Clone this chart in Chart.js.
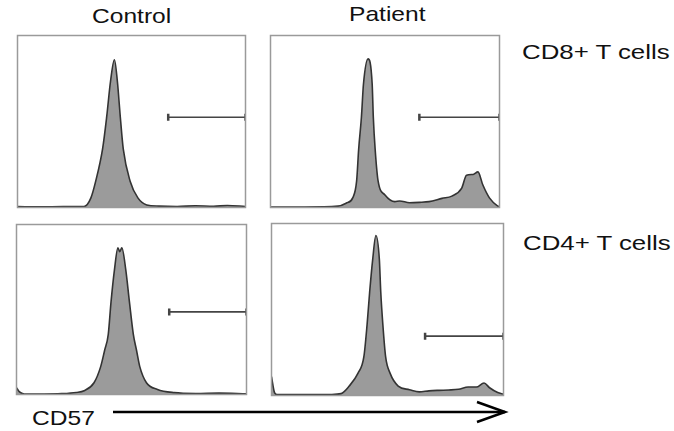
<!DOCTYPE html>
<html>
<head>
<meta charset="utf-8">
<script src="https://cdn.jsdelivr.net/npm/chart.js@4.4.1/dist/chart.umd.min.js"></script>
<style>
  body{margin:0;background:#fff;width:674px;height:431px;position:relative;overflow:hidden;font-family:"Liberation Sans",Arial,sans-serif;}
  .panel{position:absolute;}
  .lbl{position:absolute;font-size:21px;line-height:21px;color:#111;white-space:nowrap;transform:scaleX(1.17);transform-origin:left top;}
  .lbl.wide{transform:scaleX(1.23);}
  svg{position:absolute;left:0;top:0;}
</style>
</head>
<body>
<div class="lbl" style="left:92px;top:5px">Control</div>
<div class="lbl" style="left:349px;top:3px">Patient</div>
<div class="lbl wide" style="left:522px;top:41px">CD8+ T cells</div>
<div class="lbl wide" style="left:523px;top:232px">CD4+ T cells</div>
<div class="lbl" style="left:32px;top:407px">CD57</div>

<div class="panel" id="w1" style="left:11px;top:29px;width:241px;height:185px"><canvas id="c1"></canvas></div>
<div class="panel" id="w2" style="left:264px;top:29px;width:242px;height:185px"><canvas id="c2"></canvas></div>
<div class="panel" id="w3" style="left:10px;top:218px;width:243px;height:183px"><canvas id="c3"></canvas></div>
<div class="panel" id="w4" style="left:265px;top:217px;width:245px;height:185px"><canvas id="c4"></canvas></div>

<svg width="674" height="431">
  <line x1="113" y1="412" x2="505" y2="412" stroke="#000" stroke-width="2.5"/>
  <polyline points="477,402 505,412 477,422" fill="none" stroke="#000" stroke-width="2.5"/>
</svg>

<script>
// CD57 histograms, x and y in percent of the panel
const ctrlCd8X = [0, 10, 20, 29.2, 32.2, 34.3, 37.3, 39.1, 40.8, 42.5, 43.8, 45.1, 46.4, 49.4, 52.8, 56.7, 62, 70, 78, 86, 92, 100];
const ctrlCd8Y = [0.5, 0.4, 0.5, 0.6, 5.6, 15.3, 33.9, 52.5, 73.4, 85.9, 73.4, 52.5, 33.9, 15.3, 5.6, 1.5, 0.8, 0.6, 1.0, 0.7, 1.2, 0.6];

const patCd8X = [0, 15, 29.5, 33, 35.9, 37.6, 38.5, 39.7, 40.6, 42.6, 44.4, 44.9, 45.7, 47.0, 50.0, 54.3, 56.4, 60.7, 65, 69.2, 74.9, 79.2, 83.5, 85.6, 88.5, 90.6, 92.7, 95.6, 99.1, 100];
const patCd8Y = [0.3, 0.3, 0.8, 2.5, 5.6, 15.3, 33.9, 52.5, 71.8, 86.4, 71.8, 52.5, 33.9, 15.3, 7.3, 3.4, 3.8, 2.8, 3.0, 3.4, 5.3, 6.6, 11.3, 18.8, 19.2, 20.7, 13.2, 5.6, 1.0, 0.5];

const ctrlCd4X = [0, 1.3, 3.4, 12, 19.6, 26, 29.4, 33.7, 36.6, 38.3, 39.9, 41.1, 42.6, 44.1, 44.9, 45.8, 47.5, 49.1, 50.8, 52.2, 53.6, 56.5, 61.3, 68.5, 78, 88, 100];
const ctrlCd4Y = [4, 1.5, 0.3, 0.3, 0.5, 1.2, 2.2, 6.9, 16.4, 25.9, 35.4, 54.5, 73.5, 86.3, 84, 86.3, 73.5, 54.5, 35.4, 25.9, 16.4, 6.9, 3.0, 1.1, 0.6, 0.8, 0.4];

const patCd4X = [0, 1.3, 2.5, 15, 25.7, 30, 33.5, 37.3, 39.8, 41.2, 42.3, 43.6, 45, 46.5, 47.1, 48, 49.2, 51.1, 54.6, 59.5, 63.7, 67.9, 72.2, 76.4, 80.6, 84.8, 88.3, 91.6, 94, 97.5, 100];
const patCd4Y = [11, 1.7, 0.5, 0.5, 0.6, 1.1, 5.5, 13, 22.4, 41.2, 60, 78.9, 93, 78.9, 60, 41.2, 22.4, 13, 5.5, 3.4, 2.1, 2.7, 3.0, 3.2, 3.6, 4.9, 4.9, 7.3, 4.5, 1.7, 0.7];

// gates: [start x, level y], they run to the right edge
const gateCtrlCd8 = [66.1, 52.5];
const gatePatCd8 = [65, 52.5];
const gateCtrlCd4 = [66.4, 48.6];
const gatePatCd4 = [66.2, 34.5];

const frame = {
  id:'frame',
  afterDraw(chart){
    const a=chart.chartArea, ctx=chart.ctx;
    ctx.save();
    ctx.strokeStyle='#9a9a9a';
    ctx.lineWidth=1.5;
    ctx.strokeRect(a.left,a.top,a.right-a.left,a.bottom-a.top);
    ctx.restore();
  }
};

function makeHist(id,xs,ys,gate){
  const pts=xs.map((x,i)=>({x:x,y:ys[i]}));
  new Chart(document.getElementById(id),{
    type:'line',
    data:{datasets:[
      {
        data:pts,
        borderColor:'#333',
        borderWidth:1.6,
        backgroundColor:'#9b9b9b',
        fill:'origin',
        pointRadius:0,
        cubicInterpolationMode:'monotone'
      },
      {
        data:[{x:gate[0],y:gate[1]},{x:100,y:gate[1]}],
        borderColor:'#444',
        borderWidth:1.6,
        fill:false,
        pointStyle:'line',
        rotation:90,
        pointRadius:3.5,
        pointBorderWidth:2.5,
        pointBorderColor:'#444'
      }
    ]},
    options:{
      responsive:true,
      maintainAspectRatio:false,
      animation:false,
      layout:{padding:4},
      plugins:{legend:{display:false},tooltip:{enabled:false}},
      scales:{
        x:{type:'linear',min:0,max:100,display:false},
        y:{min:0,max:100,display:false}
      }
    },
    plugins:[frame]
  });
}

makeHist('c1',ctrlCd8X,ctrlCd8Y,gateCtrlCd8);
makeHist('c2',patCd8X,patCd8Y,gatePatCd8);
makeHist('c3',ctrlCd4X,ctrlCd4Y,gateCtrlCd4);
makeHist('c4',patCd4X,patCd4Y,gatePatCd4);
</script>
</body>
</html>
